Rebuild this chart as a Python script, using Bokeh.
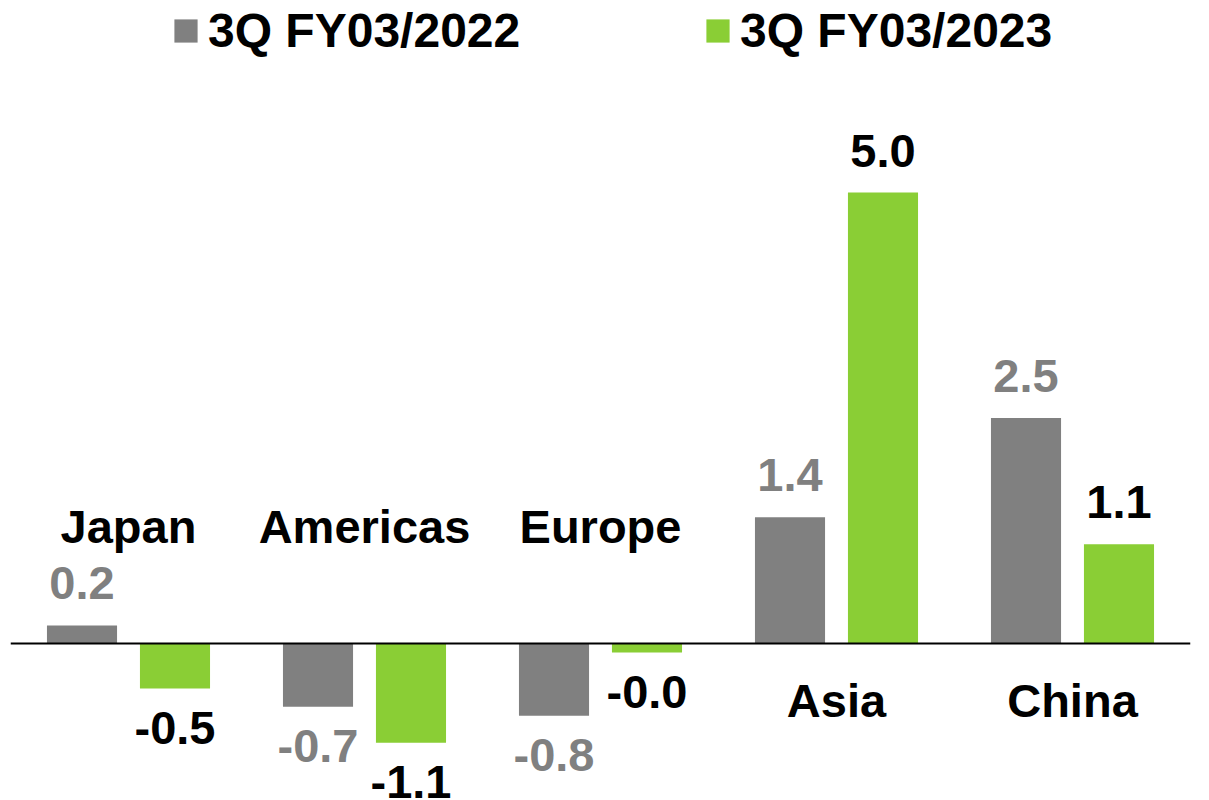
from bokeh.plotting import figure
from bokeh.models import FactorRange, Range1d, Span, Legend, LegendItem, ColumnDataSource
from bokeh.transform import dodge
from bokeh.core.properties import value
from bokeh.embed import file_html
from bokeh.resources import INLINE

categories = ["Japan", "Americas", "Europe", "Asia", "China"]
fy2022 = [0.2, -0.7, -0.8, 1.4, 2.5]
fy2023 = [-0.5, -1.1, -0.1, 5.0, 1.1]
labels2022 = ["0.2", "-0.7", "-0.8", "1.4", "2.5"]
labels2023 = ["-0.5", "-1.1", "-0.0", "5.0", "1.1"]
series_names = ["3Q FY03/2022", "3Q FY03/2023"]

GRAY = "#808080"
GREEN = "#8ACE35"
FONT = "Liberation Sans"
FS = "47px"

W, H = 1209, 800
zero_px = 643.0
ppu = 90.2

p = figure(width=W, height=H, x_range=FactorRange(*categories, range_padding=0),
           y_range=Range1d(-(H - zero_px) / ppu, zero_px / ppu),
           output_backend="svg", toolbar_location=None,
           x_axis_location=None, y_axis_location=None,
           min_border_left=10, min_border_right=19, min_border_top=0, min_border_bottom=0)
p.outline_line_color = None
p.xgrid.visible = False
p.ygrid.visible = False

src = ColumnDataSource(dict(cat=categories, a=fy2022, b=fy2023))

OFF = 0.197
BW = 0.297
r1 = p.vbar(x=dodge("cat", -OFF, range=p.x_range), top="a", bottom=0, width=BW,
            source=src, fill_color=GRAY, line_color=None)
r2 = p.vbar(x=dodge("cat", OFF, range=p.x_range), top="b", bottom=0, width=BW,
            source=src, fill_color=GREEN, line_color=None)

p.add_layout(Span(location=0, dimension="width", line_color="black", line_width=2))

# value labels
for vals, labs, off, col in [(fy2022, labels2022, -OFF, GRAY), (fy2023, labels2023, OFF, "black")]:
    s = ColumnDataSource(dict(cat=categories, y=vals, t=labs,
                              yo=[-42 if v >= 0 else 39 for v in vals]))
    p.text(x=dodge("cat", off, range=p.x_range), y="y", text="t", y_offset="yo",
           source=s, text_align="center", text_baseline="alphabetic",
           text_color=col, text_font=value(FONT), text_font_style="bold",
           text_font_size=FS)

# category labels
cs = ColumnDataSource(dict(cat=categories,
                           y=[0] * len(categories),
                           yo=[-117 if min(a, b) < 0 else 57 for a, b in zip(fy2022, fy2023)]))
p.text(x="cat", y="y", text="cat", y_offset="yo", source=cs,
       text_align="center", text_baseline="alphabetic", text_color="black",
       text_font=value(FONT), text_font_style="bold", text_font_size=FS)

for r, name, lx in [(r1, series_names[0], 161), (r2, series_names[1], 693)]:
    leg = Legend(items=[LegendItem(label=name, renderers=[r])], location=(lx, 742),
                 orientation="horizontal", padding=0, margin=0, spacing=0,
                 glyph_width=29, glyph_height=29, label_standoff=8,
                 label_text_font=FONT, label_text_font_style="bold",
                 label_text_font_size="48px", label_text_color="black",
                 border_line_color=None, background_fill_alpha=0)
    p.add_layout(leg, "center")

open("out.html", "w").write(file_html(p, INLINE))
